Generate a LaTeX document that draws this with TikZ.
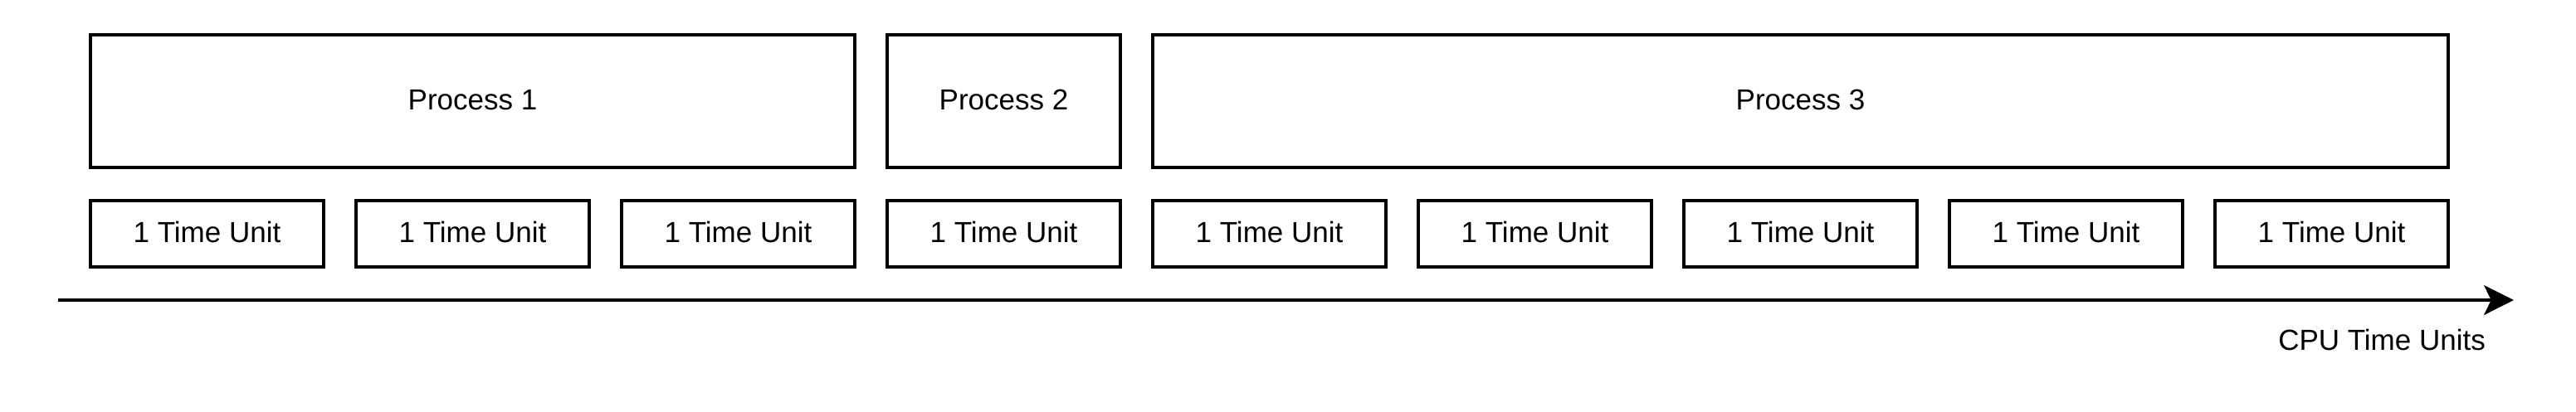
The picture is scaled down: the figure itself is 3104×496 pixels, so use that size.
\documentclass[tikz,border=0pt]{standalone}
\usepackage{fontspec}
\setmainfont{Liberation Sans}
\usetikzlibrary{arrows.meta}
\begin{document}
\begin{tikzpicture}[x=0.25pt,y=-0.25pt,
  box/.style={draw=black,line width=0.85pt,rectangle,inner sep=0pt,
    text height=6.27pt,text depth=1.25pt,
    minimum height=#1*0.25pt,font=\fontsize{8.75pt}{10pt}\selectfont},
  procbox/.style={box=160},
  unitbox/.style={box=80,minimum width=281*0.25pt},
  lbl/.style={inner sep=0pt,font=\fontsize{8.75pt}{10pt}\selectfont}]
\useasboundingbox (0,0) rectangle (3104,496);
\node[procbox,minimum width=921*0.25pt] (p1) at (569.5,122) {Process 1};
\node[procbox,minimum width=281*0.25pt] (p2) at (1209.5,122) {Process 2};
\node[procbox,minimum width=1561*0.25pt] (p3) at (2169.5,122) {Process 3};
\foreach \i in {0,...,8}{
  \node[unitbox] (u\i) at (249.5+320*\i,282) {1 Time Unit};
}
\coordinate (a0) at (70,362);
\coordinate (a1) at (3029,362);
\draw[line width=0.85pt,-{Stealth[length=9pt,width=9pt,inset=2.2pt]}] (a0) -- (a1);
\node[lbl] (cpu) at (2870,410) {CPU Time Units};
\end{tikzpicture}
\end{document}
